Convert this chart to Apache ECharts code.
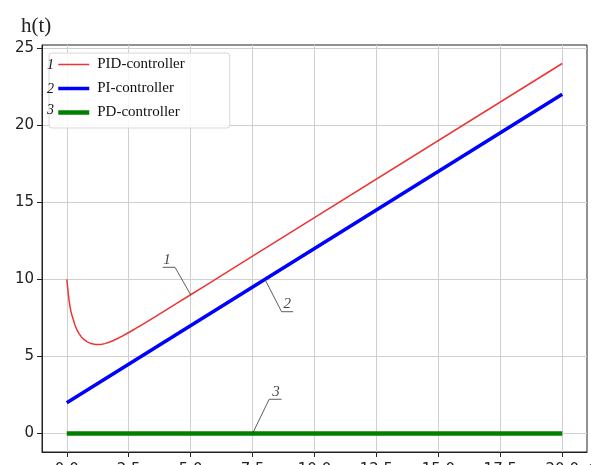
<!DOCTYPE html>
<html>
<head>
<meta charset="utf-8">
<script src="https://cdn.jsdelivr.net/npm/echarts@6/dist/echarts.min.js"></script>
<style>
  html, body { margin: 0; padding: 0; background: #fff; }
  #chart { width: 609px; height: 465px; }
</style>
</head>
<body>
<div id="chart"></div>
<script>
// tick labels
var xTicks = [0, 2.5, 5, 7.5, 10, 12.5, 15, 17.5, 20];
var yTicks = [0, 5, 10, 15, 20, 25];

// curve 1: PID-controller
var pidT = [0, 0.02, 0.04, 0.065, 0.09, 0.13, 0.17, 0.22, 0.27, 0.33, 0.4, 0.49, 0.58, 0.69, 0.81, 0.94, 1.07, 1.17, 1.28, 1.41, 1.54, 1.71, 1.88, 2.05, 2.22, 2.5, 2.75, 3.0, 3.28, 3.56, 4.0, 4.5, 5.0, 5.5, 6.0, 7.5, 20];
var pidH = [10, 9.72, 9.42, 9.02, 8.66, 8.25, 7.9, 7.6, 7.36, 7.04, 6.76, 6.5, 6.28, 6.1, 5.96, 5.86, 5.8, 5.78, 5.77, 5.79, 5.83, 5.92, 6.03, 6.16, 6.3, 6.55, 6.78, 7.02, 7.29, 7.56, 8.0, 8.5, 9.0, 9.5, 10.0, 11.5, 24.0];
// curve 2: PI-controller
var piT = [0, 20];
var piH = [2, 22];
// curve 3: PD-controller
var pdT = [0, 20];
var pdH = [0, 0];

// leader lines of the curve numbers (data coords)
var lead1T = [5.0, 4.37, 3.87];
var lead1H = [9.0, 10.78, 10.78];
var lead2T = [8.0, 8.67, 9.14];
var lead2H = [10.0, 7.9, 7.9];
var lead3T = [7.5, 8.17, 8.67];
var lead3H = [0, 2.22, 2.22];
var markNames = ['1', '2', '3'];
var markT = [4.05, 8.9, 8.45];
var markH = [10.78, 7.9, 2.22];

function pairs(a, b) {
  var out = [];
  for (var i = 0; i < a.length; i++) {
    out.push([a[i], b[i]]);
  }
  return out;
}

function leader(t, h) {
  return {
    type: 'line',
    data: pairs(t, h),
    symbol: 'none',
    silent: true,
    lineStyle: { color: '#333', width: 0.8 },
    z: 5
  };
}

var serif = '"Liberation Serif", "DejaVu Serif", serif';
var sans = '"DejaVu Sans", sans-serif';

var chart = echarts.init(document.getElementById('chart'));
chart.setOption({
  animation: false,
  title: {
    text: 'h(t)',
    left: 16,
    top: 11,
    textStyle: { fontFamily: serif, fontSize: 21, fontWeight: 'normal', color: '#222' }
  },
  grid: {
    left: 42, right: 22, top: 45, bottom: 13,
    show: true, borderColor: '#222', borderWidth: 1,
    outerBoundsMode: 'none'
  },
  legend: {
    orient: 'vertical',
    left: 49, top: 53,
    padding: [4, 45, 8, 7],
    itemWidth: 31,
    itemHeight: 14,
    itemGap: 9,
    backgroundColor: 'rgba(255,255,255,0.85)',
    borderColor: '#d8d8d8',
    borderWidth: 1,
    borderRadius: 3,
    itemStyle: { opacity: 0 },
    lineStyle: { width: 'inherit' },
    textStyle: { fontFamily: serif, fontSize: 15, color: '#111', padding: [0, 0, 0, 3] },
    data: ['PID-controller', 'PI-controller', 'PD-controller']
  },
  graphic: [
    { type: 'text', left: 47, top: 58, z: 100, style: { text: '1', font: 'italic 14px ' + serif, fill: '#111' } },
    { type: 'text', left: 47, top: 82, z: 100, style: { text: '2', font: 'italic 14px ' + serif, fill: '#111' } },
    { type: 'text', left: 47, top: 103, z: 100, style: { text: '3', font: 'italic 14px ' + serif, fill: '#111' } }
  ],
  xAxis: {
    type: 'value',
    min: -1,
    max: 21,
    name: 't',
    nameLocation: 'end',
    nameGap: 1,
    nameTextStyle: { fontFamily: serif, fontSize: 18, color: '#222', verticalAlign: 'top', align: 'left', padding: [9, 0, 0, 0] },
    axisLine: { show: true, onZero: false, lineStyle: { color: '#222' } },
    axisTick: { show: true, length: 5, lineStyle: { color: '#222' }, customValues: xTicks },
    axisLabel: {
      customValues: xTicks,
      margin: 11,
      fontFamily: sans, fontSize: 15, color: '#222',
      formatter: function (v) { return v.toFixed(1); }
    },
    splitLine: { show: true, lineStyle: { color: '#cfcfcf', width: 1 } }
  },
  yAxis: {
    type: 'value',
    min: -1.2,
    max: 25.2,
    axisLine: { show: true, onZero: false, lineStyle: { color: '#222' } },
    axisTick: { show: true, length: 5, lineStyle: { color: '#222' }, customValues: yTicks },
    axisLabel: {
      customValues: yTicks,
      margin: 8,
      fontFamily: sans, fontSize: 15, color: '#222'
    },
    splitLine: { show: true, lineStyle: { color: '#cfcfcf', width: 1 } }
  },
  series: [
    {
      name: 'PID-controller',
      type: 'line',
      data: pairs(pidT, pidH),
      symbol: 'none',
      lineStyle: { color: '#ee3333', width: 1.5 },
      itemStyle: { color: '#ee3333' },
      z: 4
    },
    {
      name: 'PI-controller',
      type: 'line',
      data: pairs(piT, piH),
      symbol: 'none',
      lineStyle: { color: '#0000ff', width: 3.5 },
      itemStyle: { color: '#0000ff' },
      z: 3
    },
    {
      name: 'PD-controller',
      type: 'line',
      data: pairs(pdT, pdH),
      symbol: 'none',
      lineStyle: { color: '#008000', width: 4.5 },
      itemStyle: { color: '#008000' },
      z: 3
    },
    leader(lead1T, lead1H),
    leader(lead2T, lead2H),
    leader(lead3T, lead3H),
    {
      type: 'scatter',
      data: markT.map(function (t, i) { return [t, markH[i], markNames[i]]; }),
      symbolSize: 0,
      silent: true,
      label: {
        show: true,
        position: 'top',
        distance: 0,
        formatter: function (p) { return p.value[2]; },
        fontFamily: serif, fontStyle: 'italic', fontSize: 15, color: '#111'
      },
      z: 6
    }
  ]
});
</script>
</body>
</html>
